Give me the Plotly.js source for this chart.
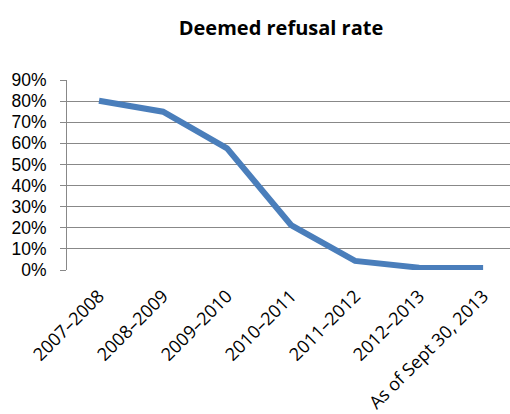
<!DOCTYPE html>
<html><head><meta charset="utf-8">
<script src="https://cdn.plot.ly/plotly-3.0.1.min.js"></script>
<style>html,body{margin:0;padding:0;overflow:hidden;background:#fff}</style>
</head><body>
<div id="chart" style="width:510px;height:414px"></div>
<script>
const categories = ["2007–2008","2008–2009","2009–2010","2010–2011","2011–2012","2012–2013","As of Sept 30, 2013"];
const rates = [0.802, 0.750, 0.576, 0.213, 0.043, 0.011, 0.010];
const yTicks = [0,0.1,0.2,0.3,0.4,0.5,0.6,0.7,0.8,0.9];
const yTickText = ["0%","10%","20%","30%","40%","50%","60%","70%","80%","90%"];

const font = "'Open Sans', 'Liberation Sans', sans-serif";
const tickFont = "'Liberation Sans', Arial, sans-serif";
Plotly.newPlot('chart', [{
  x: categories.map((c,i)=>i), y: rates, type:'scatter', mode:'lines',
  line:{color:'#4A7EBB', width:6}, hoverinfo:'skip'
}], {
  width:510, height:414,
  margin:{l:67, r:0, t:80, b:144},
  paper_bgcolor:'#fff', plot_bgcolor:'#fff',
  showlegend:false,
  title:{text:'<b>Deemed refusal rate</b>', x:0.551, xref:'container', xanchor:'center', y:0.932, yref:'container', yanchor:'middle', font:{family:font, size:20, color:'#000'}},
  xaxis:{range:[-0.5,6.42], tickmode:'array', tickvals:categories.map((c,i)=>i), ticktext:categories, tickangle:-45,
    showgrid:false, zeroline:false, showline:false, ticks:'', tickfont:{family:font, size:18, color:'#000'}, ticklabelstandoff:11},
  yaxis:{range:[0,0.9], tickmode:'array', tickvals:yTicks, ticktext:yTickText, showgrid:true, gridcolor:'#888888', gridwidth:1,
    zeroline:false, showline:true, linecolor:'#888888', linewidth:1, ticks:'outside', ticklen:6, tickcolor:'#888888',
    tickfont:{family:tickFont, size:17.5, color:'#000'}, ticklabelstandoff:10}
}, {displayModeBar:false, staticPlot:true});
</script>
</body></html>
